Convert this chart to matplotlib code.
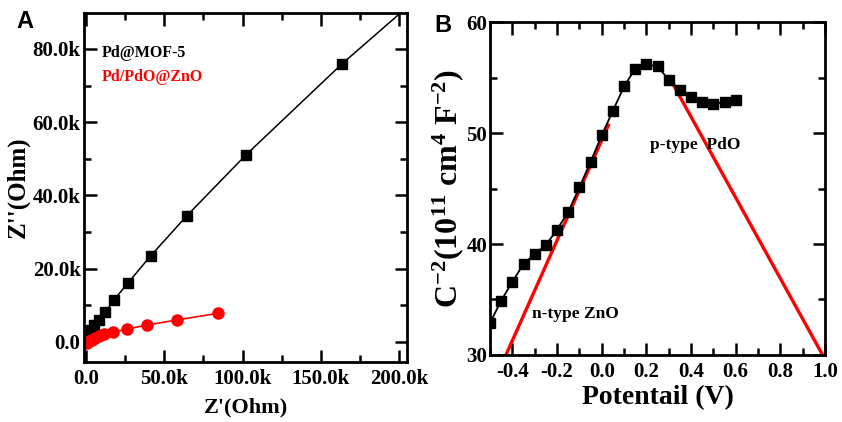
import numpy as np
import matplotlib.pyplot as plt
from matplotlib.ticker import MultipleLocator, FuncFormatter

plt.rcParams['font.family'] = ['Liberation Serif', 'DejaVu Serif']
plt.rcParams['font.weight'] = 'bold'
plt.rcParams['mathtext.fontset'] = 'custom'
plt.rcParams['mathtext.rm'] = 'Liberation Serif:bold'
plt.rcParams['mathtext.it'] = 'Liberation Serif:bold'
plt.rcParams['mathtext.bf'] = 'Liberation Serif:bold'

# Panel A: Nyquist data (Ohm)
mof_x = [200, 1100, 3000, 5300, 8300, 12100, 17900, 27000, 41300, 64300, 102000, 163700, 200000]
mof_y = [500, 1900, 3300, 4600, 6000, 8100, 11500, 16200, 23500, 34400, 51000, 76000, 89500]
mof_n = 12  # last entry only continues the line
zno_x = [400, 1900, 3600, 5700, 8300, 11700, 17500, 26000, 39200, 58300, 84500]
zno_y = [-400, 100, 500, 1000, 1500, 2100, 2600, 3500, 4600, 6000, 7800]

# Panel B: Mott-Schottky data
pot = [-0.50, -0.45, -0.40, -0.35, -0.30, -0.25, -0.20, -0.15, -0.10, -0.05, 0.00,
       0.05, 0.10, 0.15, 0.20, 0.25, 0.30, 0.35, 0.40, 0.45, 0.50, 0.55, 0.60]
csq = [32.9, 34.9, 36.6, 38.2, 39.1, 39.9, 41.3, 42.9, 45.1, 47.4, 49.8,
       52.0, 54.2, 55.8, 56.2, 56.0, 54.8, 53.9, 53.2, 52.8, 52.6, 52.8, 52.95]
n_fit_x = [-0.429, 0.030]
n_fit_y = [30.0, 50.7]
p_fit_x = [0.322, 0.989]
p_fit_y = [54.3, 30.0]

fig = plt.figure(figsize=(8.42, 4.22), dpi=100)
axA = fig.add_axes([0.0998, 0.1422, 0.3836, 0.827])
axB = fig.add_axes([0.582, 0.1588, 0.3979, 0.789])


def style(ax, ypad):
    for s in ax.spines.values():
        s.set_linewidth(2)
    ax.tick_params(which='both', direction='in', top=True, right=True,
                   width=1.8, labelsize=15)
    ax.tick_params(which='major', length=9)
    ax.tick_params(which='minor', length=5)
    ax.tick_params(axis='x', pad=5)
    ax.tick_params(axis='y', pad=ypad)
    for lab in ax.get_xticklabels() + ax.get_yticklabels():
        lab.set_fontweight('bold')


def kfmt(v, pos):
    if abs(v) < 1e-9:
        return '0.0'
    return '%.1fk' % (v / 1000)


# --- A ---
axA.plot(mof_x, mof_y, color='black', lw=1.1)
axA.plot(mof_x[:mof_n], mof_y[:mof_n], 's', color='black', ms=7.5)
axA.plot(zno_x, zno_y, '-o', color='red', lw=1.2, ms=8)
axA.set_xlim(-1300, 205000)
axA.set_ylim(-5500, 89800)
axA.xaxis.set_major_locator(MultipleLocator(50000))
axA.xaxis.set_minor_locator(MultipleLocator(25000))
axA.yaxis.set_major_locator(MultipleLocator(20000))
axA.yaxis.set_minor_locator(MultipleLocator(10000))
axA.xaxis.set_major_formatter(FuncFormatter(kfmt))
axA.yaxis.set_major_formatter(FuncFormatter(kfmt))
style(axA, 2.5)
axA.set_xlabel("Z'(Ohm)", fontsize=16, fontweight='bold', labelpad=6)
axA.set_ylabel("Z''(Ohm)", fontsize=18, fontweight='bold', labelpad=2)
axA.text(0.055, 0.885, 'Pd@MOF-5', transform=axA.transAxes, fontsize=11.5,
         fontweight='bold', color='black', va='center')
axA.text(0.055, 0.817, 'Pd/PdO@ZnO', transform=axA.transAxes, fontsize=11.5,
         fontweight='bold', color='red', va='center')
fig.text(25 / 842, 1 - 22 / 422, 'A', fontsize=17, fontweight='bold',
         family='Liberation Sans', ha='center', va='center')

# --- B ---
axB.plot(n_fit_x, n_fit_y, color='red', lw=2.4)
axB.plot(p_fit_x, p_fit_y, color='red', lw=2.4)
axB.plot(pot, csq, '-s', color='black', lw=1.3, ms=6.5)
axB.set_xlim(-0.5, 1.0)
axB.set_ylim(30, 60)
axB.xaxis.set_major_locator(MultipleLocator(0.2))
axB.xaxis.set_minor_locator(MultipleLocator(0.1))
axB.yaxis.set_major_locator(MultipleLocator(10))
axB.yaxis.set_minor_locator(MultipleLocator(5))
axB.xaxis.set_major_formatter(FuncFormatter(lambda v, p: '%.1f' % v))
axB.yaxis.set_major_formatter(FuncFormatter(lambda v, p: '%d' % round(v)))
style(axB, 2)
axB.set_xlabel('Potentail (V)', fontsize=20, fontweight='bold', labelpad=2)
axB.set_ylabel(r'C$^{-2}$(10$^{11}$ cm$^{4}$ F$^{-2}$)', fontsize=23,
               fontweight='bold', labelpad=0)
axB.text(-0.31, 33.7, 'n-type ZnO', fontsize=12.5, fontweight='bold', va='center')
axB.text(0.215, 48.9, 'p-type  PdO', fontsize=12.5, fontweight='bold', va='center')
fig.text(443 / 842, 1 - 25 / 422, 'B', fontsize=17, fontweight='bold',
         family='Liberation Sans', ha='center', va='center')

fig.savefig('out.png', dpi=100)
